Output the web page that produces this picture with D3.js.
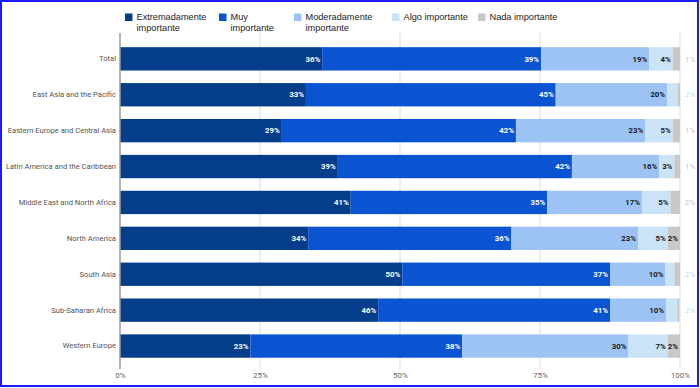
<!DOCTYPE html>
<html><head><meta charset="utf-8">
<script src="https://cdn.jsdelivr.net/npm/d3@7"></script>
<style>body{margin:0;background:#fff}svg{display:block}</style>
</head><body>
<script>
const categories = ["Total","East Asia and the Pacific","Eastern Europe and Central Asia","Latin America and the Caribbean","Middle East and North Africa","North America","South Asia","Sub-Saharan Africa","Western Europe"];
const seriesNames = ["Extremadamente importante","Muy importante","Moderadamente importante","Algo importante","Nada importante"];
const extremadamente = [36.1, 33.2, 28.9, 38.9, 41.2, 33.6, 50.4, 46.1, 23.3];
const muy            = [39.1, 44.6, 41.8, 41.8, 35.1, 36.3, 37.1, 41.4, 37.8];
const moderadamente  = [19.3, 19.9, 23.1, 15.6, 16.9, 22.6, 9.9, 10.0, 29.7];
const algo           = [4.2, 1.9, 4.9, 2.7, 5.1, 5.3, 1.6, 2.0, 7.0];
const nada           = [1.3, 0.4, 1.3, 1.0, 1.7, 2.2, 1.0, 0.4, 2.2];
const xTicks = [0, 25, 50, 75, 100];

const colors = ["#043e8b","#0a54d1","#9dc3f4","#cbe3f7","#c8c8c8"];
const textColors = ["#fff","#fff","#1a1a1a","#1a1a1a","#1a1a1a"];
const outsideColors = ["#043e8b","#0a54d1","#9dc3f4","#bcd9f3","#c8c8c8"];
const seriesData = [extremadamente, muy, moderadamente, algo, nada];

const W = 700, H = 388;
const svg = d3.select("body").append("svg").attr("width", W).attr("height", H);

const x = d3.scaleLinear().domain([0, 100]).range([120, 680]);
const y = d3.scaleBand().domain(categories).range([40.9, 364]).paddingInner(0.35).paddingOuter(0.175);

// gridlines
svg.append("g").selectAll("line").data(xTicks.slice(1)).join("line")
  .attr("x1", d => x(d)).attr("x2", d => x(d))
  .attr("y1", 33).attr("y2", 369)
  .attr("stroke", "#dcdcdc").attr("stroke-width", 1);

// x axis tick labels
const xAxis = d3.axisBottom(x).tickValues(xTicks).tickFormat(d => d + "%").tickSize(0).tickPadding(0);
const gx = svg.append("g").attr("transform", "translate(0,374)").call(xAxis);
gx.select(".domain").remove();
gx.selectAll("text").attr("font-family", "Roboto").attr("font-size", 8).attr("fill", "#666").attr("dy", "0.55em");

// y axis labels
const yAxis = d3.axisLeft(y).tickSize(0).tickPadding(4);
const gy = svg.append("g").attr("transform", "translate(120,0)").call(yAxis);
gy.select(".domain").remove();
gy.selectAll("text").attr("font-family", "Roboto").attr("font-size", 7.6).attr("fill", "#555");

// stacked data
const rows = categories.map((c, i) => {
  const o = {cat: c};
  seriesNames.forEach((s, j) => o[s] = seriesData[j][i]);
  return o;
});
const stack = d3.stack().keys(seriesNames)(rows);

const gBars = svg.append("g");
stack.forEach((layer, j) => {
  gBars.append("g").selectAll("rect").data(layer).join("rect")
    .attr("x", d => x(d[0])).attr("width", d => x(d[1]) - x(d[0]))
    .attr("y", d => y(d.data.cat)).attr("height", y.bandwidth())
    .attr("fill", colors[j]);
});

// labels
const gLab = svg.append("g").attr("font-family", "Roboto").attr("font-size", 7.8).attr("font-weight", "bold");
categories.forEach((c, i) => {
  let outsideX = 685;
  stack.forEach((layer, j) => {
    const d = layer[i];
    const v = d[1] - d[0];
    const r = Math.round(v);
    if (r < 1) return;
    const w = x(d[1]) - x(d[0]);
    const cy = y(c) + y.bandwidth() / 2;
    if (w >= 11.5) {
      gLab.append("text").attr("x", x(d[1]) - 2).attr("y", cy).attr("dy", "0.35em")
        .attr("text-anchor", "end").attr("fill", textColors[j]).text(r + "%");
    } else {
      gLab.append("text").attr("x", outsideX).attr("y", cy).attr("dy", "0.35em")
        .attr("text-anchor", "start").attr("font-weight", "normal").attr("fill", outsideColors[j]).text(r + "%");
      outsideX += 13;
    }
  });
});

// zero line
svg.append("line").attr("x1", x(0)).attr("x2", x(0)).attr("y1", 33).attr("y2", 369)
  .attr("stroke", "#9a9a9a").attr("stroke-width", 1.5);

// legend
const legendItems = [
  {x: 125, lines: ["Extremadamente", "importante"]},
  {x: 219, lines: ["Muy", "importante"]},
  {x: 294, lines: ["Moderadamente", "importante"]},
  {x: 392, lines: ["Algo importante"]},
  {x: 478, lines: ["Nada importante"]}
];
const gLeg = svg.append("g").attr("font-family", "Liberation Sans").attr("font-size", 9.2).attr("fill", "#222");
legendItems.forEach((it, j) => {
  gLeg.append("rect").attr("x", it.x).attr("y", 13.5).attr("width", 7.5).attr("height", 7.5).attr("fill", colors[j]);
  it.lines.forEach((l, k) => gLeg.append("text").attr("x", it.x + 11.5).attr("y", 20.3 + k * 10.6).text(l));
});

// border
svg.append("rect").attr("x", 1).attr("y", 1).attr("width", 697).attr("height", 385)
  .attr("fill", "none").attr("stroke", "#1a1aff").attr("stroke-width", 2);
</script>
</body></html>
